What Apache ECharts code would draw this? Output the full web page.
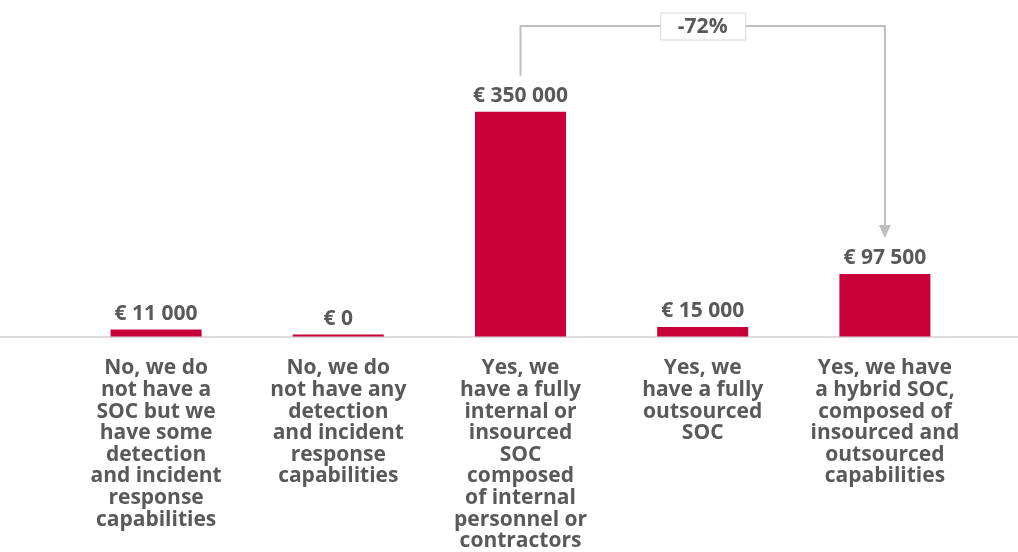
<!DOCTYPE html>
<html>
<head>
<meta charset="utf-8">
<script src="https://cdn.jsdelivr.net/npm/echarts@6/dist/echarts.min.js"></script>
<style>
  html, body { margin: 0; padding: 0; background: #fff; }
  #chart { width: 1018px; height: 552px; }
</style>
</head>
<body>
<div id="chart"></div>
<script>
var categories = [
  'No, we do\nnot have a\nSOC but we\nhave some\ndetection\nand incident\nresponse\ncapabilities',
  'No, we do\nnot have any\ndetection\nand incident\nresponse\ncapabilities',
  'Yes, we\nhave a fully\ninternal or\ninsourced\nSOC\ncomposed\nof internal\npersonnel or\ncontractors',
  'Yes, we\nhave a fully\noutsourced\nSOC',
  'Yes, we have\na hybrid SOC,\ncomposed of\ninsourced and\noutsourced\ncapabilities'
]
var costs = [11000, 0, 350000, 15000, 97500]
// comparison bracket: from bar index 2 to bar index 4
var compareFrom = 2
var compareTo = 4
var compareLabel = '-72%'

var textColor = '#595959'
var barColor = '#C8003A'
var font = '"Open Sans", "DejaVu Sans", sans-serif'

function euro(v) {
  return '€ ' + String(v).replace(/\B(?=(\d{3})+(?!\d))/g, ' ')
}

var chart = echarts.init(document.getElementById('chart'))

var option = {
  backgroundColor: '#fff',
  animation: false,
  grid: { left: 65, right: 42, top: 15.3, bottom: 211 },
  xAxis: {
    type: 'category',
    data: categories,
    axisLine: { show: false },
    axisTick: { show: false },
    axisLabel: {
      interval: 0,
      margin: 21,
      color: textColor,
      fontFamily: font,
      fontWeight: 'bold',
      fontSize: 21,
      lineHeight: 21.6
    }
  },
  yAxis: {
    type: 'value',
    min: 0,
    max: 500000,
    show: false,
    splitLine: { show: false }
  },
  series: [{
    type: 'bar',
    data: costs,
    barWidth: 91,
    barMinHeight: 2,
    itemStyle: { color: barColor },
    label: {
      show: true,
      position: 'top',
      distance: 5,
      color: textColor,
      fontFamily: font,
      fontWeight: 'bold',
      fontSize: 21,
      formatter: function (p) { return euro(p.value) }
    }
  }]
}
chart.setOption(option)

// baseline across the full width
var base = chart.convertToPixel({ gridIndex: 0 }, [0, 0])
var p1 = chart.convertToPixel({ gridIndex: 0 }, [compareFrom, costs[compareFrom]])
var p2 = chart.convertToPixel({ gridIndex: 0 }, [compareTo, costs[compareTo]])
var topY = 26
var lineStyle = { stroke: '#bfbfbf', lineWidth: 2, fill: null }
var midX = (p1[0] + p2[0]) / 2

chart.setOption({
  graphic: [
    {
      type: 'line', z: 0,
      shape: { x1: 0, y1: base[1] + 0.5, x2: 1018, y2: base[1] + 0.5 },
      style: { stroke: '#cfcfcf', lineWidth: 1.5 }
    },
    {
      type: 'polyline',
      shape: { points: [[p1[0], p1[1] - 36], [p1[0], topY], [p2[0], topY], [p2[0], p2[1] - 48]] },
      style: lineStyle
    },
    {
      type: 'polygon',
      shape: { points: [[p2[0] - 6, p2[1] - 49], [p2[0] + 6, p2[1] - 49], [p2[0], p2[1] - 36]] },
      style: { fill: '#bfbfbf' }
    },
    {
      type: 'rect',
      shape: { x: midX - 42, y: topY - 13, width: 85, height: 27 },
      style: { fill: '#fff', stroke: '#d9d9d9', lineWidth: 1 }
    },
    {
      type: 'text',
      x: midX, y: topY + 1,
      style: {
        text: compareLabel, align: 'center', verticalAlign: 'middle',
        fill: textColor, font: 'bold 21px ' + font
      }
    }
  ]
})
</script>
</body>
</html>
